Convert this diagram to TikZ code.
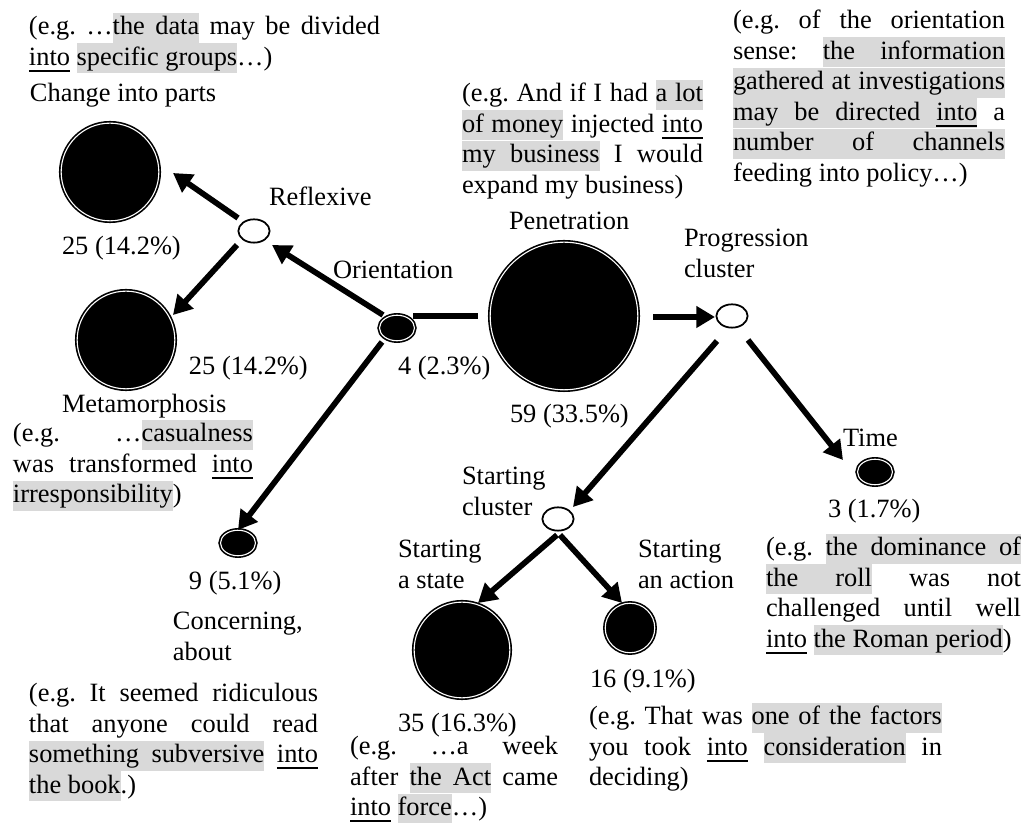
\documentclass[tikz,border=0pt]{standalone}
\usepackage{fontspec}
\setmainfont{Liberation Serif}
\usepackage{tikz}
\usetikzlibrary{calc,arrows.meta,shapes.geometric}
\definecolor{hlGray}{RGB}{217,217,217}
\setlength\lineskiplimit{-20pt}
\frenchspacing
\newcommand\hlw[1]{{\setlength\fboxsep{0pt}\colorbox{hlGray}{\vrule height 10.2pt depth 3.5pt width 0pt #1}}}
\newcommand\hlsp{{\color{hlGray}\leaders\vrule height 10.2pt depth 3.5pt\hskip\fontdimen2\font plus\fontdimen3\font minus\fontdimen4\font}}
\def\hl#1{\hlA#1 \hlEnd}
\def\hlA#1 #2\hlEnd{\hlw{#1}\if\relax\detokenize{#2}\relax\else\hlsp\hlA#2\hlEnd\fi}
\newcommand\jl[1]{{\spaceskip=0pt\xspaceskip=0pt\makebox[\linewidth][s]{#1}}}
\newcommand\udl[1]{\leavevmode\setbox0=\hbox{#1}\rlap{\rule[-2.9pt]{\wd0}{0.9pt}}\box0\relax}

\begin{document}
\begin{tikzpicture}[x=0.4545pt, y=-0.4545pt,
  font=\fontsize{12}{13.86}\selectfont,
  lbl/.style={anchor=base west, inner sep=0pt, outer sep=0pt},
  exbox/.style={lbl, text width={#1*0.4545pt}, align=justify},
  hub/.style={ellipse, draw=black, line width=0.8pt, fill=white, inner sep=0pt, minimum width=14.2pt, minimum height=10.6pt},
  blob/.style={circle, draw=black, fill=black, line width=0.75pt, double=white, double distance=0.5pt, inner sep=0pt, minimum size=#1},
  smallblob/.style={ellipse, draw=black, fill=black, line width=0.75pt, double=white, double distance=0.5pt, inner sep=0pt, minimum width=15.9pt, minimum height=11.6pt},
  link/.style={line width=2.6pt},
  arr/.style={link, -{Triangle[length=8.5pt, width=9.5pt]}}]
\useasboundingbox (0,0) rectangle (1027,823);

\node[blob=44.4pt] (cip) at (110,172) {};
\node[blob=44.4pt] (meta) at (126,340) {};
\node[blob=67.1pt] (pen) at (564,316) {};
\node[blob=43.5pt] (sst) at (462,650) {};
\node[blob=22.5pt] (sac) at (630,628) {};
\node[smallblob] (ori) at (397,328) {};
\node[smallblob] (time) at (875,472) {};
\node[smallblob] (conc) at (238,543) {};
\node[hub] (refl) at (254,231) {};
\node[hub] (prog) at (732,316) {};
\node[hub] (stc) at (558,519) {};

\draw[arr] ($(ori.center)+(-14,-13)$) -- ($(refl.center)+(18,14)$);
\draw[arr] ($(refl.center)+(-16,-13)$) -- ($(cip.center)+(63,1)$);
\draw[arr] ($(refl.center)+(-17,14)$) -- ($(meta.center)+(47,-25)$);
\draw[link] ($(ori.center)+(16,-12)$) -- ($(pen.center)+(-86,0)$);
\draw[arr] ($(ori.center)+(-15,14)$) -- ($(conc.center)+(0,-13)$);
\draw[arr] ($(pen.center)+(89,1)$) -- ($(prog.center)+(-17,1)$);
\draw[arr] ($(prog.center)+(16,24)$) -- ($(time.center)+(-32,-12)$);
\draw[arr] ($(prog.center)+(-15,25)$) -- ($(stc.center)+(15,-12)$);
\draw[arr] ($(stc.center)+(-1,16)$) -- ($(sst.center)+(16,-47)$);
\draw[arr] ($(stc.center)+(2,16)$) -- ($(sac.center)+(-8,-25)$);

\node[lbl] (cipname) at (30,102) {Change into parts};
\node[lbl] (reflname) at (269,206) {Reflexive};
\node[lbl] (cipcount) at (62,255) {25 (14.2\%)};
\node[lbl] (oriname) at (333,279) {Orientation};
\node[lbl] (metacount) at (189,375) {25 (14.2\%)};
\node[lbl] (oricount) at (398,375) {4 (2.3\%)};
\node[lbl] (metaname) at (62,413) {Metamorphosis};
\node[lbl] (penname) at (509,230) {Penetration};
\node[lbl] (pencount) at (510,423) {59 (33.5\%)};
\node[exbox=130] (progname) at (684,247) {Progression\\cluster};
\node[lbl] (timename) at (843,447) {Time};
\node[lbl] (timecount) at (828,518) {3 (1.7\%)};
\node[exbox=90] (stcname) at (462,485) {Starting\\cluster};
\node[exbox=90] (sstname) at (398,558) {Starting\\a state};
\node[exbox=110] (sacname) at (638,558) {Starting\\an action};
\node[lbl] (conccount) at (189,590) {9 (5.1\%)};
\node[exbox=140] (concname) at (173,630) {Concerning,\\about};
\node[lbl] (saccount) at (590,688) {16 (9.1\%)};
\node[lbl] (sstcount) at (398,732) {35 (16.3\%)};

\node[exbox=351] (cipex) at (29,35) {\jl{(e.g. …\hl{the data} may be divided}\\\udl{into} \hl{specific groups}…)};
\node[exbox=240] (metaex) at (13,442) {\jl{(e.g. …\hl{casualness}}\\\jl{was transformed \udl{into}}\\\hl{irresponsibility})};
\node[exbox=241] (penex) at (462,102) {\jl{(e.g. And if I had \hl{a lot}}\\\jl{\hl{of money} injected \udl{into}}\\\jl{\hl{my business} I would}\\expand my business)};
\node[exbox=272] (oriex) at (733,29) {\jl{(e.g. of the orientation}\\\jl{sense: \hl{the information}}\\\jl{\hl{gathered at investigations}}\\\jl{\hl{may be directed \udl{into}} a}\\\jl{\hl{number of channels}}\\feeding into policy…)};
\node[exbox=255] (timeex) at (766,556) {\jl{(e.g. \hl{the dominance of}}\\\jl{\hl{the roll} was not}\\\jl{challenged until well}\\\udl{into} \hl{the Roman period})};
\node[exbox=289] (concex) at (29,702) {\jl{(e.g. It seemed ridiculous}\\\jl{that anyone could read}\\\jl{\hl{something subversive} \udl{into}}\\\hl{the book}.)};
\node[exbox=353] (sacex) at (589,725) {\jl{(e.g. That was \hl{one of the factors}}\\\jl{you took \udl{into} \hl{consideration} in}\\deciding)};
\node[exbox=208] (sstex) at (350,755) {\jl{(e.g. …a week}\\\jl{after \hl{the Act} came}\\\udl{into} \hl{force}…)};
\end{tikzpicture}
\end{document}
